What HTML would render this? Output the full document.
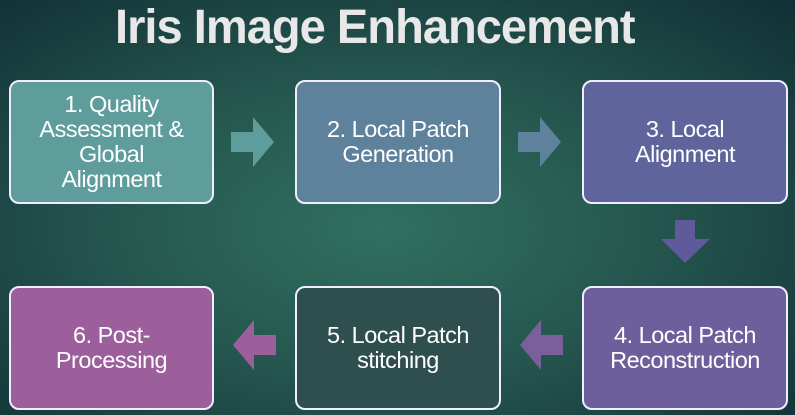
<!DOCTYPE html>
<html><head><style>
body{margin:0;width:795px;height:415px;overflow:hidden;background:radial-gradient(ellipse at 48% 55%,#307060 0%,#25574f 45%,#173a3c 85%,#123036 100%);font-family:"Liberation Sans",sans-serif;position:relative}
.t{position:absolute;left:115px;top:0px;white-space:nowrap;color:#e8e8e8;font-weight:bold;font-size:48px;letter-spacing:-1px;transform:scaleX(0.98);transform-origin:0 0}
.b{position:absolute;width:201px;height:120px;border:2px solid #eef;border-radius:10px;box-sizing:border-box;color:#fff;font-size:23.5px;line-height:25px;display:flex;align-items:center;justify-content:center;text-align:center;letter-spacing:-0.5px}
svg{position:absolute}
</style></head><body>
<div class="t">Iris Image Enhancement</div>
<div class="b" style="left:9px;top:80px;width:205px;height:124px;background:#5f9c9c">1. Quality<br>Assessment &amp;<br>Global<br>Alignment</div>
<div class="b" style="left:295px;top:80px;width:206px;height:124px;background:#5f829c">2. Local Patch<br>Generation</div>
<div class="b" style="left:582px;top:80px;width:206px;height:124px;background:#5f659c">3. Local<br>Alignment</div>
<div class="b" style="left:582px;top:286px;width:206px;height:124px;background:#6d5f9c">4. Local Patch<br>Reconstruction</div>
<div class="b" style="left:295px;top:286px;width:206px;height:124px;background:#2f4f4f">5. Local Patch<br>stitching</div>
<div class="b" style="left:9px;top:286px;width:205px;height:124px;background:#9c5f9c">6. Post-<br>Processing</div>
<svg width="795" height="415" style="left:0;top:0">
<polygon points="231,132 253,132 253,117 274,142 253,167 253,152 231,152" fill="#5f9c9c"/>
<polygon points="518,132 540,132 540,117 561,142 540,167 540,152 518,152" fill="#5f829c"/>
<polygon points="675,220 695,220 695,239 710,239 685,263 661,239 675,239" fill="#5f5a9c"/>
<polygon points="563,335 541,335 541,320 520,345 541,370 541,355 563,355" fill="#7a5f9c"/>
<polygon points="276,335 254,335 254,320 233,345 254,370 254,355 276,355" fill="#9c5f9c"/>
</svg>
</body></html>
